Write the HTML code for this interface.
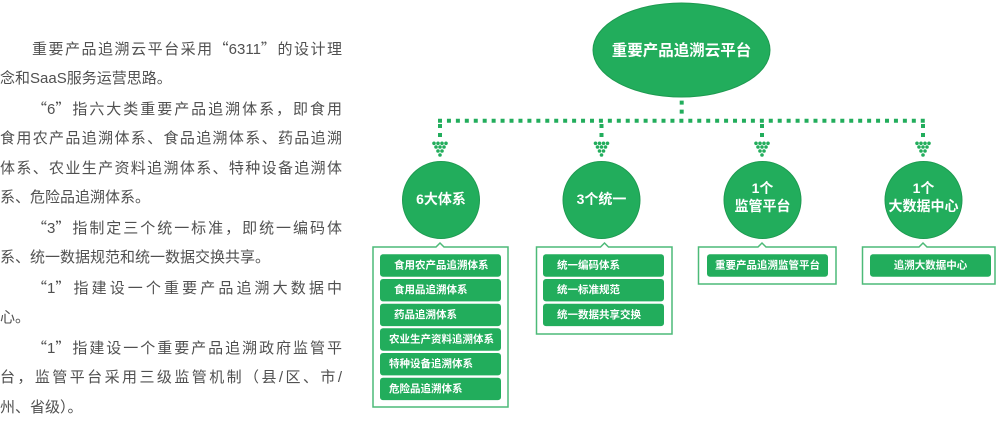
<!DOCTYPE html>
<html><head><meta charset="utf-8">
<style>
html,body{margin:0;padding:0;background:#fff;}
body{width:999px;height:420px;position:relative;overflow:hidden;font-family:"Liberation Sans","Noto Sans CJK SC",sans-serif;}
#txt{position:absolute;left:0;top:34px;width:342px;font-size:15px;line-height:29.9px;color:#505050;}
#txt div{height:29.9px;white-space:nowrap;}
#txt .j{text-align:justify;text-align-last:justify;}
#txt .i{padding-left:32px;}
#txt .q{font-family:"Noto Sans CJK SC",sans-serif;}
svg{position:absolute;left:0;top:0;}
svg text{font-family:"Liberation Sans","Noto Sans CJK SC",sans-serif;font-weight:bold;fill:#fff;}
</style></head>
<body>
<div id="txt">
<div class="j i">重要产品追溯云平台采用<span class="q">“</span>6311<span class="q">”</span>的设计理</div>
<div>念和SaaS服务运营思路。</div>
<div class="j i"><span class="q">“</span>6<span class="q">”</span>指六大类重要产品追溯体系，即食用</div>
<div class="j">食用农产品追溯体系、食品追溯体系、药品追溯</div>
<div class="j">体系、农业生产资料追溯体系、特种设备追溯体</div>
<div>系、危险品追溯体系。</div>
<div class="j i"><span class="q">“</span>3<span class="q">”</span>指制定三个统一标准，即统一编码体</div>
<div>系、统一数据规范和统一数据交换共享。</div>
<div class="j i"><span class="q">“</span>1<span class="q">”</span>指建设一个重要产品追溯大数据中</div>
<div>心。</div>
<div class="j i"><span class="q">“</span>1<span class="q">”</span>指建设一个重要产品追溯政府监管平</div>
<div class="j">台，监管平台采用三级监管机制（县/区、市/</div>
<div>州、省级）。</div>
</div>

<svg width="999" height="420" viewBox="0 0 999 420" xmlns="http://www.w3.org/2000/svg">
<defs>
<g id="arr" fill="#22ad5c">
<rect x="-2" y="-13" width="4" height="4"/>
<rect x="-2" y="-4" width="4" height="4"/>
<circle cx="-6" cy="6.3" r="1.8"/><circle cx="-2" cy="6.3" r="1.8"/><circle cx="2" cy="6.3" r="1.8"/><circle cx="6" cy="6.3" r="1.8"/>
<circle cx="-4" cy="10" r="1.8"/><circle cx="0" cy="10" r="1.8"/><circle cx="4" cy="10" r="1.8"/>
<circle cx="-2" cy="14" r="1.8"/><circle cx="2" cy="14" r="1.8"/>
<circle cx="0" cy="18" r="1.8"/>
</g>
</defs>

<!-- top ellipse -->
<ellipse cx="681.5" cy="50" rx="88.5" ry="47" fill="#22ad5c" stroke="#1d9a50" stroke-width="1"/>
<text x="681.5" y="51" font-size="15.5" text-anchor="middle" dominant-baseline="central">重要产品追溯云平台</text>

<!-- connectors -->
<line x1="681.7" y1="100.6" x2="681.7" y2="118" stroke="#22ad5c" stroke-width="4" stroke-dasharray="4 5"/>
<line x1="438" y1="120.7" x2="925.5" y2="120.7" stroke="#22ad5c" stroke-width="4" stroke-dasharray="4 4.94"/>
<use href="#arr" x="440" y="137"/>
<use href="#arr" x="601.5" y="137"/>
<use href="#arr" x="762" y="137"/>
<use href="#arr" x="923" y="137"/>

<!-- circles -->
<g fill="#22ad5c" stroke="#1d9a50" stroke-width="1">
<circle cx="441" cy="200" r="38.5"/>
<circle cx="601.5" cy="200" r="38.5"/>
<circle cx="762.5" cy="200" r="38.5"/>
<circle cx="923.5" cy="200" r="38.5"/>
</g>
<text x="441" y="199" font-size="14" text-anchor="middle" dominant-baseline="central">6大体系</text>
<text x="601.5" y="199" font-size="14" text-anchor="middle" dominant-baseline="central">3个统一</text>
<text x="762.5" y="188" font-size="14" text-anchor="middle" dominant-baseline="central">1个</text>
<text x="762.5" y="206" font-size="14" text-anchor="middle" dominant-baseline="central">监管平台</text>
<text x="923.5" y="188" font-size="14" text-anchor="middle" dominant-baseline="central">1个</text>
<text x="923.5" y="206" font-size="14" text-anchor="middle" dominant-baseline="central">大数据中心</text>

<!-- boxes with notch -->
<g fill="#fff" stroke="#4dba78" stroke-width="1.5">
<path d="M373 247 H436 L440 243 L444 247 H508 V407 H373 Z"/>
<path d="M536.5 247 H600.5 L604.5 243 L608.5 247 H672 V334 H536.5 Z"/>
<path d="M698.5 247 H758 L762 243 L766 247 H836 V284 H698.5 Z"/>
<path d="M862.5 247 H919 L923 243 L927 247 H995 V284 H862.5 Z"/>
</g>

<!-- items -->
<g fill="#22ad5c">
<rect x="380" y="254.3" width="121" height="22.4" rx="3"/>
<rect x="380" y="279" width="121" height="22.4" rx="3"/>
<rect x="380" y="303.7" width="121" height="22.4" rx="3"/>
<rect x="380" y="328.3" width="121" height="22.4" rx="3"/>
<rect x="380" y="353" width="121" height="22.4" rx="3"/>
<rect x="380" y="377.7" width="121" height="22.4" rx="3"/>
<rect x="543" y="254.3" width="121" height="22.4" rx="3"/>
<rect x="543" y="279" width="121" height="22.4" rx="3"/>
<rect x="543" y="303.7" width="121" height="22.4" rx="3"/>
<rect x="707" y="254.3" width="121" height="22.4" rx="3"/>
<rect x="870" y="254.3" width="121" height="22.4" rx="3"/>
</g>
<g font-size="10.5" dominant-baseline="central">
<text x="394" y="265.5">食用农产品追溯体系</text>
<text x="394" y="290.2">食用品追溯体系</text>
<text x="394" y="314.9">药品追溯体系</text>
<text x="389" y="339.5">农业生产资料追溯体系</text>
<text x="389" y="364.2">特种设备追溯体系</text>
<text x="389" y="388.9">危险品追溯体系</text>
<text x="557" y="265.5">统一编码体系</text>
<text x="557" y="290.2">统一标准规范</text>
<text x="557" y="314.9">统一数据共享交换</text>
<text x="767.5" y="265.5" text-anchor="middle">重要产品追溯监管平台</text>
<text x="930.5" y="265.5" text-anchor="middle">追溯大数据中心</text>
</g>
</svg>
</body></html>
